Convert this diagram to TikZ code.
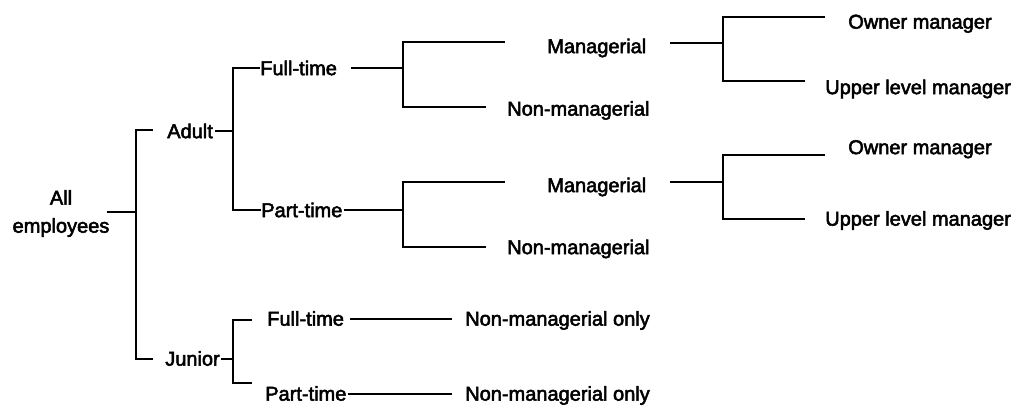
\documentclass[tikz,border=0pt]{standalone}
\usepackage{fontspec}
\newfontfamily\lbl[FakeBold=2.6]{Liberation Sans}
\usetikzlibrary{calc}
\begin{document}
\begin{tikzpicture}[x=0.75pt,y=-0.75pt,
  t/.style={font={\lbl\fontsize{15pt}{21pt}\selectfont}, inner sep=0pt, text height=10.7pt, text depth=0pt, anchor=west},
  ln/.style={line width=1.5pt, line cap=butt}]
\useasboundingbox (0,0) rectangle (1032,406);
% nodes
\node[font={\lbl\fontsize{15pt}{21pt}\selectfont}, inner sep=0pt, align=center] (all) at (61,213.5) {All\\employees};
\node[t] (adult)  at (167,131)   {Adult};
\node[t] (junior) at (165,358.5) {Junior};
\node[t] (aft)    at (260,68)    {Full-time};
\node[t] (apt)    at (261,210)   {Part-time};
\node[t] (jft)    at (267,318.5) {Full-time};
\node[t] (jpt)    at (265,393.5) {Part-time};
\node[t] (m1)     at (547,46)    {Managerial};
\node[t] (n1)     at (507,108.5) {Non-managerial};
\node[t] (m2)     at (547,185)   {Managerial};
\node[t] (n2)     at (507,247)   {Non-managerial};
\node[t] (o1)     at (848,21.5)  {Owner manager};
\node[t] (u1)     at (825,87)    {Upper level manager};
\node[t] (o2)     at (848,147)   {Owner manager};
\node[t] (u2)     at (825,218.5) {Upper level manager};
\node[t] (jn1)    at (465,318.5) {Non-managerial only};
\node[t] (jn2)    at (465,393.5) {Non-managerial only};
% fork coordinates
\coordinate (r0) at (136,212); \coordinate (r1) at (136,130); \coordinate (r2) at (136,359);
\coordinate (a0) at (233,131); \coordinate (a1) at (233,68);  \coordinate (a2) at (233,210);
\coordinate (f0) at (403,68);  \coordinate (f1) at (403,42);  \coordinate (f2) at (403,107);
\coordinate (p0) at (403,210); \coordinate (p1) at (403,182); \coordinate (p2) at (403,247);
\coordinate (g0) at (723,43);  \coordinate (g1) at (723,17);  \coordinate (g2) at (723,81);
\coordinate (h0) at (723,182); \coordinate (h1) at (723,155); \coordinate (h2) at (723,219);
\coordinate (j0) at (233,359); \coordinate (j1) at (233,320); \coordinate (j2) at (233,383);
% connectors
\draw[ln] ($(all.east |- r0)+(-3,0)$) -- (r0);
\draw[ln] ($(adult.west |- r1)+(-14,0)$) -- (r1) -- (r2) -- ($(junior.west |- r2)+(-12,0)$);
\draw[ln] ($(adult.east |- a0)+(2,0)$) -- (a0);
\draw[ln] (aft.west |- a1) -- (a1) -- (a2) -- (apt.west |- a2);
\draw[ln] ($(aft.east |- f0)+(14,0)$) -- (f0);
\draw[ln] ($(m1.west |- f1)+(-42,0)$) -- (f1) -- (f2) -- ($(n1.west |- f2)+(-21,0)$);
\draw[ln] ($(apt.east |- p0)+(1,0)$) -- (p0);
\draw[ln] ($(m2.west |- p1)+(-42,0)$) -- (p1) -- (p2) -- ($(n2.west |- p2)+(-21,0)$);
\draw[ln] ($(m1.east |- g0)+(24,0)$) -- (g0);
\draw[ln] ($(o1.west |- g1)+(-23,0)$) -- (g1) -- (g2) -- ($(u1.west |- g2)+(-20,0)$);
\draw[ln] ($(m2.east |- h0)+(24,0)$) -- (h0);
\draw[ln] ($(o2.west |- h1)+(-23,0)$) -- (h1) -- (h2) -- ($(u2.west |- h2)+(-20,0)$);
\draw[ln] ($(junior.east |- j0)+(1,0)$) -- (j0);
\draw[ln] ($(jft.west |- j1)+(-15,0)$) -- (j1) -- (j2) -- ($(jpt.west |- j2)+(-13,0)$);
\draw[ln] ($(jft.east)+(6,0)$) -- ($(jn1.west)+(-13,0)$);
\draw[ln] ($(jpt.east)+(1,0)$) -- ($(jn2.west)+(-13,0)$);
\end{tikzpicture}
\end{document}
